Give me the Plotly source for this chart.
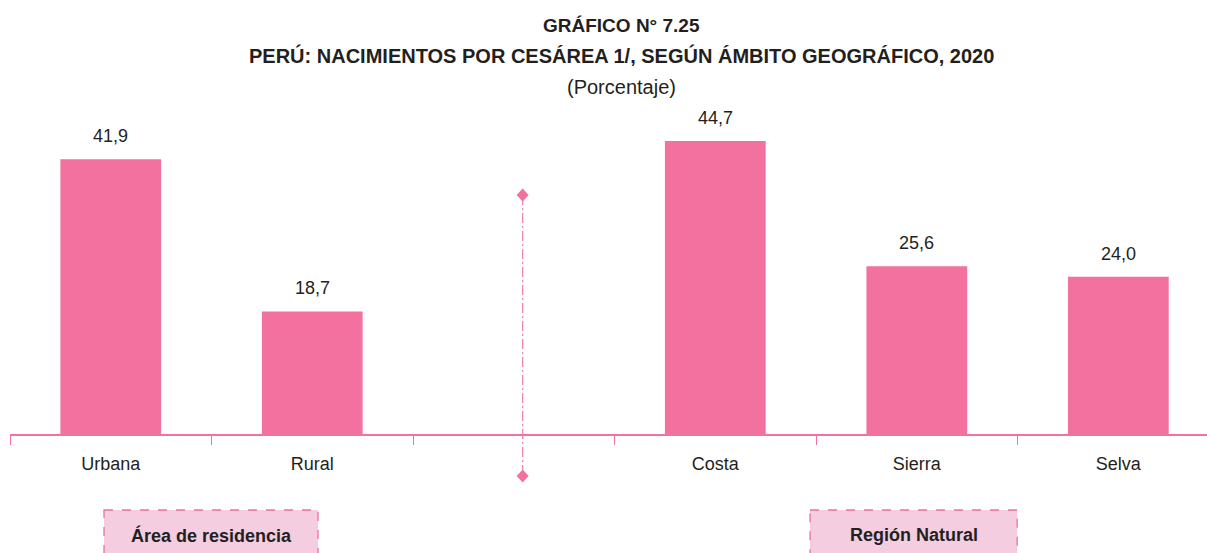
import plotly.graph_objects as go

categories = ["Urbana", "Rural", " ", "Costa", "Sierra", "Selva"]
values = [41.9, 18.7, None, 44.7, 25.6, 24.0]
value_labels = ["41,9", "18,7", "", "44,7", "25,6", "24,0"]
group_labels = ["Área de residencia", "Región Natural"]
title_lines = ["GRÁFICO N° 7.25",
               "PERÚ: NACIMIENTOS POR CESÁREA 1/, SEGÚN ÁMBITO GEOGRÁFICO, 2020",
               "(Porcentaje)"]

PINK = "#F2719F"
LIGHT = "#F4CDE1"
FONT = "Liberation Sans Narrow, Liberation Sans, Arial"
TXT = "#231F20"

W, H = 1207, 553
AXIS_PX = 434      # pixel row of the baseline
TOP_PX = 100       # pixel row of plot top
YMAX = 50.95

def py(px_row):
    return (H - px_row) / H

fig = go.Figure()
fig.add_trace(go.Bar(
    x=categories, y=values,
    marker=dict(color=PINK, line=dict(width=0)),
    width=0.5, hoverinfo="skip",
))

# value labels
for cat, v, lab in zip(categories, values, value_labels):
    if v is None:
        continue
    fig.add_annotation(x=cat, y=v, xref="x", yref="y", text=lab, showarrow=False,
                       yanchor="middle", yshift=23,
                       font=dict(size=18, color=TXT, family=FONT))

# divider between groups
DIV_X = 2.044
fig.add_shape(type="line", xref="x", yref="paper", x0=DIV_X, x1=DIV_X,
              y0=py(195), y1=py(476),
              line=dict(color="#F27FA8", width=1.2, dash="10px,3px,2px,3px"), layer="above")
for row in (195, 476):
    fig.add_shape(type="path", xref="x", yref="paper", xsizemode="pixel", ysizemode="pixel",
                  xanchor=DIV_X, yanchor=py(row), path="M 0,6.5 L 6,0 L 0,-6.5 L -6,0 Z",
                  fillcolor=PINK, line=dict(width=0), layer="above")

# group boxes
for xc, label, half in [(0.4975, group_labels[0], 0.531), (3.984, group_labels[1], 0.514)]:
    fig.add_shape(type="rect", xref="x", yref="paper",
                  x0=xc - half, x1=xc + half, y0=py(510), y1=py(570),
                  fillcolor=LIGHT, line=dict(color="#EE6F9D", width=1.3, dash="dash"),
                  layer="above")
    fig.add_annotation(x=xc, xref="x", y=py(535), yref="paper", text="<b>%s</b>" % label,
                       showarrow=False, font=dict(size=18, color=TXT, family=FONT),
                       yanchor="middle")

# title lines
for txt, row, bold, size in zip(title_lines, [26, 56, 87], [True, True, False], [19, 20, 20]):
    fig.add_annotation(x=0.511, xref="paper", y=py(row), yref="paper",
                       text=("<b>%s</b>" % txt) if bold else txt, showarrow=False,
                       xanchor="center", yanchor="middle",
                       font=dict(size=size, color=TXT, family=FONT))

fig.update_layout(
    width=W, height=H,
    margin=dict(l=10, r=0, t=0, b=0),
    plot_bgcolor="white", paper_bgcolor="white",
    showlegend=False,
    xaxis=dict(
        type="category", categoryorder="array", categoryarray=categories,
        range=[-0.5, 5.44], tickson="boundaries", ticks="outside", ticklen=9,
        tickcolor=PINK, tickwidth=1.3, showline=True, linecolor=PINK, linewidth=1.6,
        showgrid=False, zeroline=False, ticklabelstandoff=13,
        tickfont=dict(size=18, color=TXT, family=FONT),
    ),
    yaxis=dict(range=[0, YMAX], domain=[py(AXIS_PX), py(TOP_PX)], visible=False,
               showgrid=False, zeroline=False),
)

fig.write_html("out.html", config={"displayModeBar": False},
               post_script="document.body.style.margin='0px';")
